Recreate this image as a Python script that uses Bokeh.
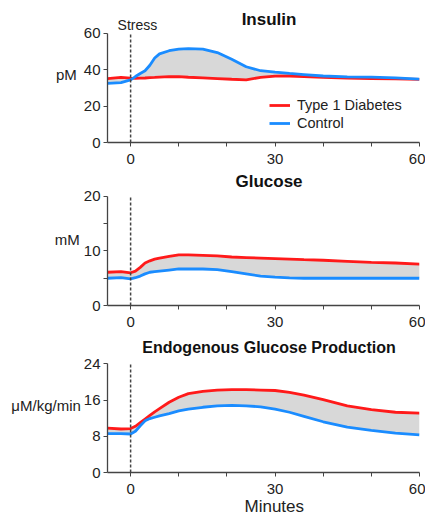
from bokeh.plotting import figure
from bokeh.layouts import column
from bokeh.models import FixedTicker, Label, Legend, LegendItem, ColumnDataSource, Title
from bokeh.embed import file_html
from bokeh.resources import INLINE

# ---------------- data ----------------
minutes = [-4.8, -2, 0, 1, 2, 3, 4, 5, 6, 8, 10, 12, 15, 18, 21, 24, 27, 30, 33, 36, 40, 45, 50, 55, 60]

insulin_t1d = [35.2, 35.9, 35.4, 35.3, 35.4, 35.5, 35.7, 35.8, 36.0, 36.3, 36.2, 35.9, 35.6, 35.2, 34.8, 34.5,
               35.8, 36.5, 36.6, 36.3, 35.8, 35.5, 35.2, 35.0, 34.7]
insulin_ctrl = [32.5, 33.0, 34.5, 36.3, 38.0, 39.5, 42.5, 46.5, 48.8, 50.5, 51.4, 51.7, 51.4, 49.5, 45.8, 41.7,
                39.5, 38.7, 38.0, 37.4, 36.6, 36.1, 36.0, 35.6, 34.9]

glucose_t1d = [6.1, 6.2, 6.0, 6.3, 7.0, 7.8, 8.2, 8.5, 8.7, 9.0, 9.3, 9.3, 9.2, 9.1, 8.9, 8.8,
               8.7, 8.6, 8.5, 8.4, 8.3, 8.1, 7.9, 7.8, 7.6]
glucose_ctrl = [5.0, 5.1, 4.9, 5.1, 5.4, 5.8, 6.1, 6.2, 6.3, 6.5, 6.7, 6.7, 6.7, 6.6, 6.2, 5.8,
                5.4, 5.2, 5.05, 5.0, 5.0, 5.0, 5.0, 5.0, 5.0]

egp_t1d = [9.8, 9.6, 9.7, 10.2, 11.0, 11.8, 12.6, 13.4, 14.1, 15.5, 16.6, 17.4, 17.9, 18.2, 18.3, 18.3,
           18.2, 18.1, 17.7, 17.1, 16.1, 14.7, 13.9, 13.3, 13.1]
egp_ctrl = [8.6, 8.6, 8.5, 9.1, 10.3, 11.4, 11.9, 12.2, 12.5, 13.0, 13.6, 14.0, 14.4, 14.7, 14.8, 14.7,
            14.5, 14.0, 13.3, 12.4, 11.2, 10.0, 9.3, 8.7, 8.3]

x_ticks = [0, 30, 60]
x_minor_ticks = [10, 20, 40, 50]
stress_time = 0

titles = ["Insulin", "Glucose", "Endogenous Glucose Production"]
units = ["pM", "mM", "\u03bcM/kg/min"]
y_ticks = [[0, 20, 40, 60], [0, 10, 20], [0, 8, 16, 24]]
y_minor = [[], [5, 15], []]
series_t1d = [insulin_t1d, glucose_t1d, egp_t1d]
series_ctrl = [insulin_ctrl, glucose_ctrl, egp_ctrl]
legend_labels = ["Type 1 Diabetes", "Control"]
x_label = "Minutes"

# ---------------- style / layout ----------------
FONT = "Liberation Sans"
RED = "#ff1a1a"
BLUE = "#1a8cff"
FILL = "#d8d8d8"
AXIS = "#444444"
X_START, X_END = -4.8, 60

heights = [172, 165, 178]
borders_top = [5, 0, 0]
borders_bottom = [30, 32, 43]
y_view_top = [75.4, 24.4, 29.8]        # range end leaves room for the panel title
title_sizes = ["17px", "17px", "16px"]
title_offsets = [14, 15, 16]
unit_standoffs = [4, 1, 0]
TITLE_X = 28.75

figs = []
for i in range(3):
    ymax = y_ticks[i][-1]
    p = figure(width=425, height=heights[i], x_range=(X_START, X_END), y_range=(0, y_view_top[i]),
               output_backend="svg", toolbar_location=None,
               min_border_left=107, min_border_right=6,
               min_border_top=borders_top[i], min_border_bottom=borders_bottom[i])
    p.outline_line_color = None
    p.grid.visible = False
    p.background_fill_color = "white"

    src = ColumnDataSource(dict(t=minutes, a=series_t1d[i], b=series_ctrl[i]))
    p.varea(x="t", y1="a", y2="b", source=src, fill_color=FILL, fill_alpha=1.0)
    r_red = p.line(x="t", y="a", source=src, line_color=RED, line_width=2.8)
    r_blue = p.line(x="t", y="b", source=src, line_color=BLUE, line_width=2.8)

    p.segment(x0=[stress_time], y0=[0], x1=[stress_time], y1=[ymax],
              line_color="#444444", line_width=1.5, line_dash="3 2")

    # axes
    p.xaxis.ticker = FixedTicker(ticks=x_ticks, minor_ticks=x_minor_ticks)
    p.yaxis.ticker = FixedTicker(ticks=y_ticks[i], minor_ticks=y_minor[i])
    p.yaxis.bounds = (0, ymax)
    for ax in (p.xaxis, p.yaxis):
        ax.axis_line_color = AXIS
        ax.axis_line_width = 1.3
        ax.major_tick_line_color = AXIS
        ax.minor_tick_line_color = AXIS
        ax.major_tick_in = 0
        ax.major_tick_out = 4
        ax.minor_tick_in = 0
        ax.minor_tick_out = 4
        ax.major_label_text_font = FONT
        ax.major_label_text_font_size = "15px"
        ax.major_label_text_color = "#222222"
    p.yaxis.major_label_standoff = 3
    p.xaxis.major_label_standoff = 7
    p.yaxis.axis_label = units[i]
    p.yaxis.axis_label_orientation = "horizontal"
    p.yaxis.axis_label_text_font = FONT
    p.yaxis.axis_label_text_font_size = "15px"
    p.yaxis.axis_label_text_font_style = "normal"
    p.yaxis.axis_label_text_color = "#222222"
    p.yaxis.axis_label_standoff = unit_standoffs[i]

    # panel title (inside the frame, above the axis top)
    p.add_layout(Label(x=TITLE_X, y=ymax, y_offset=title_offsets[i], text=titles[i], text_align="center",
                       text_baseline="middle", text_font=FONT, text_font_style="bold",
                       text_font_size=title_sizes[i], text_color="#111111"))

    if i == 0:
        p.add_layout(Label(x=stress_time, y=ymax, x_offset=-13, y_offset=0, text="Stress",
                           text_align="left", text_baseline="bottom", text_font=FONT,
                           text_font_size="14px", text_color="#222222"))
        legend = Legend(items=[LegendItem(label=legend_labels[0], renderers=[r_red]),
                               LegendItem(label=legend_labels[1], renderers=[r_blue])],
                        location=(162, 10), margin=0, padding=0, spacing=0,
                        glyph_width=21, glyph_height=18, label_height=18, label_standoff=7,
                        label_text_font=FONT, label_text_font_size="14.5px",
                        label_text_color="#222222",
                        border_line_alpha=0, background_fill_alpha=0)
        p.add_layout(legend)
    if i == 2:
        t = Title(text=x_label, align="left", offset=137, standoff=-4, text_font=FONT,
                  text_font_size="17px", text_font_style="normal", text_color="#222222")
        p.add_layout(t, "below")
    figs.append(p)

layout = column(*figs, spacing=0)
open("out.html", "w").write(file_html(layout, INLINE))
